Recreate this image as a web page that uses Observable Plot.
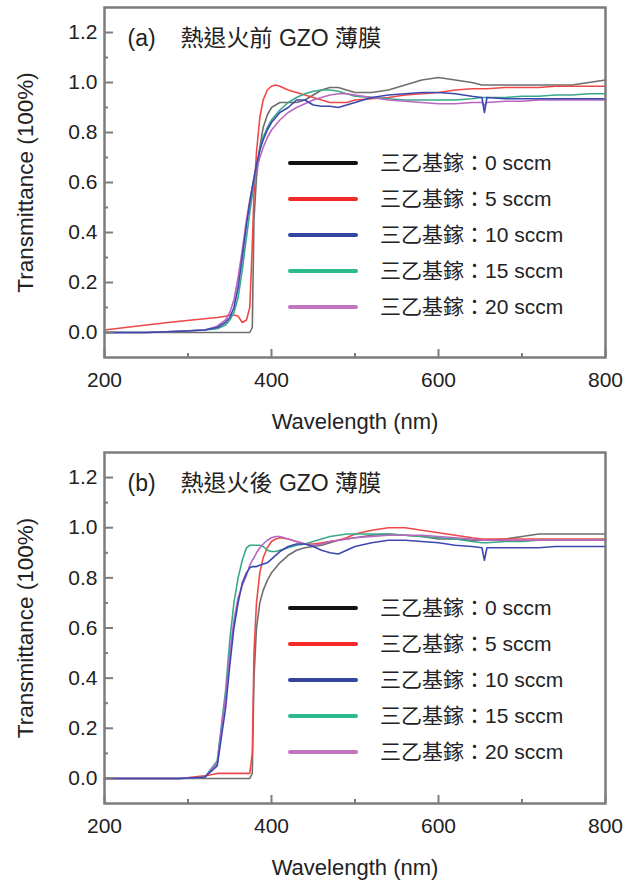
<!DOCTYPE html>
<html>
<head>
<meta charset="utf-8">
<script src="https://cdn.jsdelivr.net/npm/d3@7"></script>
<script src="https://cdn.jsdelivr.net/npm/@observablehq/plot@0.6"></script>
<style>
  html, body { margin: 0; padding: 0; background: #fff; }
  #chart { position: relative; width: 638px; height: 881px; overflow: hidden; }
  #chart svg { position: absolute; left: 0; }
</style>
</head>
<body>
<div id="chart"></div>
<script>
// Wavelength grid (nm) shared by every spectrum
const wavelength = [200,250,290,320,335,345,350,355,360,365,370,374,377,379,382,386,390,395,400,405,410,420,430,440,450,460,470,480,490,500,520,540,560,580,600,620,640,652,655,658,680,700,720,740,760,780,800];

// Series labels and colours
const seriesLabels = ["三乙基鎵：0 sccm", "三乙基鎵：5 sccm", "三乙基鎵：10 sccm", "三乙基鎵：15 sccm", "三乙基鎵：20 sccm"];
const lineColors   = ["#6e6e6e", "#f04848", "#3c48b0", "#3aa88c", "#b868c0"];
const legendColors = ["#111111", "#f42a2a", "#33459e", "#2cb98e", "#c274c0"];

// Axis ticks
const xMajor = [200, 400, 600, 800];
const xMinor = [300, 500, 700];
const yMajor = [0, 0.2, 0.4, 0.6, 0.8, 1.0, 1.2];
const yMinor = [0.1, 0.3, 0.5, 0.7, 0.9, 1.1];

// (a) before thermal annealing — transmittance per wavelength
const beforeTEGa0  = [0,0,0,0,0,0,0,0,0,0,0,0,0.02,0.45,0.62,0.74,0.82,0.87,0.90,0.91,0.92,0.92,0.92,0.93,0.95,0.97,0.98,0.98,0.97,0.96,0.96,0.97,0.99,1.01,1.02,1.01,1.0,0.99,0.99,0.99,0.99,0.99,0.99,0.99,0.99,1.0,1.01];
const beforeTEGa5  = [0.01,0.03,0.045,0.055,0.06,0.065,0.07,0.07,0.065,0.04,0.05,0.10,0.35,0.55,0.72,0.86,0.93,0.97,0.985,0.99,0.985,0.97,0.96,0.95,0.94,0.93,0.92,0.92,0.92,0.93,0.935,0.94,0.95,0.955,0.96,0.97,0.975,0.975,0.975,0.975,0.98,0.98,0.98,0.985,0.985,0.985,0.985];
const beforeTEGa10 = [0,0,0.005,0.01,0.02,0.04,0.06,0.10,0.18,0.30,0.43,0.52,0.58,0.62,0.67,0.73,0.77,0.81,0.84,0.86,0.88,0.90,0.93,0.93,0.91,0.905,0.905,0.90,0.91,0.92,0.94,0.95,0.955,0.96,0.96,0.955,0.945,0.94,0.88,0.94,0.935,0.935,0.935,0.935,0.935,0.935,0.935];
const beforeTEGa15 = [0,0,0.005,0.01,0.015,0.03,0.05,0.08,0.14,0.25,0.38,0.48,0.55,0.60,0.66,0.73,0.78,0.82,0.85,0.87,0.89,0.92,0.94,0.955,0.965,0.97,0.97,0.965,0.955,0.945,0.94,0.935,0.93,0.93,0.93,0.93,0.935,0.94,0.94,0.94,0.94,0.945,0.945,0.95,0.95,0.955,0.955];
const beforeTEGa20 = [0,0,0.005,0.01,0.025,0.05,0.08,0.13,0.22,0.33,0.45,0.53,0.58,0.61,0.65,0.70,0.74,0.78,0.81,0.83,0.85,0.88,0.90,0.915,0.93,0.94,0.95,0.955,0.955,0.95,0.94,0.93,0.925,0.92,0.915,0.915,0.92,0.92,0.91,0.92,0.925,0.925,0.93,0.93,0.93,0.93,0.93];

// (b) after thermal annealing
const afterTEGa0  = [0,0,0,0,0,0,0,0,0,0,0,0,0.02,0.40,0.60,0.70,0.75,0.79,0.82,0.84,0.86,0.89,0.91,0.92,0.925,0.93,0.94,0.95,0.955,0.96,0.97,0.975,0.97,0.965,0.955,0.955,0.95,0.95,0.95,0.95,0.955,0.965,0.975,0.975,0.975,0.975,0.975];
const afterTEGa5  = [0,0,0,0.01,0.02,0.02,0.02,0.02,0.02,0.02,0.02,0.02,0.10,0.50,0.70,0.82,0.88,0.92,0.945,0.955,0.96,0.955,0.945,0.935,0.935,0.94,0.945,0.95,0.96,0.975,0.99,1.0,1.0,0.99,0.98,0.97,0.96,0.955,0.955,0.955,0.955,0.955,0.955,0.955,0.955,0.955,0.955];
const afterTEGa10 = [0,0,0,0.005,0.05,0.28,0.45,0.60,0.70,0.78,0.82,0.84,0.845,0.845,0.845,0.85,0.855,0.86,0.875,0.89,0.905,0.925,0.935,0.935,0.925,0.91,0.90,0.895,0.91,0.925,0.94,0.95,0.95,0.945,0.94,0.93,0.925,0.92,0.87,0.92,0.92,0.92,0.92,0.925,0.925,0.925,0.925];
const afterTEGa15 = [0,0,0,0.005,0.07,0.35,0.55,0.70,0.80,0.87,0.92,0.93,0.93,0.93,0.93,0.93,0.925,0.91,0.905,0.905,0.91,0.92,0.93,0.935,0.945,0.955,0.965,0.97,0.975,0.975,0.975,0.975,0.97,0.965,0.96,0.955,0.945,0.94,0.94,0.94,0.945,0.945,0.95,0.95,0.95,0.95,0.95];
const afterTEGa20 = [0,0,0,0.005,0.06,0.33,0.50,0.63,0.72,0.77,0.81,0.85,0.87,0.88,0.90,0.92,0.935,0.95,0.96,0.965,0.965,0.955,0.945,0.935,0.93,0.935,0.945,0.95,0.955,0.96,0.965,0.97,0.97,0.97,0.965,0.96,0.955,0.95,0.95,0.95,0.95,0.95,0.95,0.95,0.95,0.95,0.95];

const FONT = "'Liberation Sans', Arial, 'Noto Sans CJK TC', sans-serif";
const TEXT = "#222";
const FRAME = "#7c7c7c";

function drawPanel({tag, title, series, top, height, marginBottom}) {
  const W = 638, mL = 104, mR = 33, mT = 7;
  const plotW = W - mL - mR;
  const plotH = height - mT - marginBottom;

  const lines = series.map((vals, i) =>
    Plot.line(wavelength.map((w, j) => [w, vals[j]]), {
      stroke: lineColors[i], strokeWidth: 1.6, strokeLinejoin: "round"
    })
  );
  // blue curve drawn last so it sits on top
  const order = [0, 1, 3, 4, 2];

  const svg = Plot.plot({
    width: W, height,
    marginLeft: mL, marginRight: mR, marginTop: mT, marginBottom,
    style: {fontFamily: FONT, fontSize: "21px", color: TEXT, background: "#fff", overflow: "visible"},
    x: {domain: [200, 800]},
    y: {domain: [-0.1, 1.3]},
    marks: [
      ...order.map(i => lines[i]),
      // inward tick marks on the bottom and left edges of the frame
      Plot.tickX(xMajor, {x: d => d, insetTop: plotH - 8, stroke: FRAME, strokeWidth: 2}),
      Plot.tickX(xMinor, {x: d => d, insetTop: plotH - 4, stroke: FRAME, strokeWidth: 2}),
      Plot.tickY(yMajor, {y: d => d, insetRight: plotW - 9, stroke: FRAME, strokeWidth: 2}),
      Plot.tickY(yMinor, {y: d => d, insetRight: plotW - 4, stroke: FRAME, strokeWidth: 2}),
      Plot.frame({stroke: FRAME, strokeWidth: 2.5}),
      Plot.axisX({ticks: xMajor, tickSize: 0, tickPadding: 15, tickFormat: d => String(d), label: null, fontSize: 21}),
      Plot.axisY({ticks: yMajor, tickSize: 0, tickPadding: 7, tickFormat: d => d.toFixed(1), label: null, fontSize: 21}),
      Plot.text(["Wavelength (nm)"], {frameAnchor: "bottom", dy: 64, lineAnchor: "middle", textAnchor: "middle", fontSize: 22, fill: TEXT}),
      Plot.text(["Transmittance (100%)"], {frameAnchor: "left", dx: -79, rotate: -90, lineAnchor: "middle", textAnchor: "middle", fontSize: 22.5, fill: TEXT}),
      Plot.text([tag], {frameAnchor: "top-left", dx: 23, dy: 31, lineAnchor: "middle", textAnchor: "start", fontSize: 23, fill: TEXT}),
      Plot.text([title], {frameAnchor: "top-left", dx: 76, dy: 31, lineAnchor: "middle", textAnchor: "start", fontSize: 23, fill: TEXT})
    ]
  });

  // legend inside the frame
  const lg = d3.select(svg).append("g")
    .attr("font-family", FONT).attr("font-size", 21).attr("fill", TEXT).attr("text-anchor", "start");
  seriesLabels.forEach((label, i) => {
    const cy = mT + 156 + i * 36;
    lg.append("line")
      .attr("x1", mL + 186).attr("x2", mL + 252)
      .attr("y1", cy).attr("y2", cy)
      .attr("stroke", legendColors[i]).attr("stroke-width", 4).attr("stroke-linecap", "round");
    lg.append("text")
      .attr("x", mL + 276).attr("y", cy).attr("dy", "0.35em")
      .attr("text-anchor", "start")
      .text(label);
  });

  svg.style.top = top + "px";
  document.getElementById("chart").appendChild(svg);
}

drawPanel({
  tag: "(a)", title: "熱退火前 GZO 薄膜",
  series: [beforeTEGa0, beforeTEGa5, beforeTEGa10, beforeTEGa15, beforeTEGa20],
  top: 0, height: 440, marginBottom: 83
});
drawPanel({
  tag: "(b)", title: "熱退火後 GZO 薄膜",
  series: [afterTEGa0, afterTEGa5, afterTEGa10, afterTEGa15, afterTEGa20],
  top: 445, height: 436, marginBottom: 78
});
</script>
</body>
</html>
